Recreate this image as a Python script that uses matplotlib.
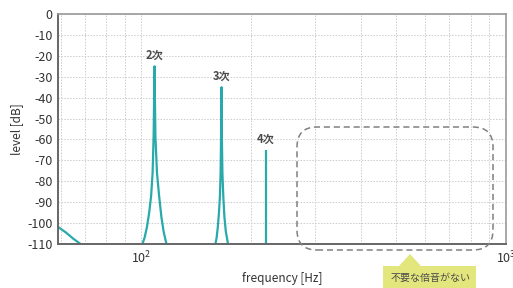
import matplotlib
matplotlib.use('Agg')
import matplotlib.pyplot as plt
from matplotlib.patches import FancyBboxPatch, Polygon, Rectangle

plt.rcParams['font.family'] = ['Noto Sans CJK JP', 'DejaVu Sans']

# fundamental tail (left edge)
f_fund = [55.0, 59.2, 62.0, 65.0, 68.0]
lv_fund = [-99.0, -102.0, -104.5, -107.5, -110.0]

# 2nd harmonic
f_h2 = [100.6, 102.0, 103.5, 105.0, 106.3, 107.3, 108.0, 108.6, 109.2, 110.3, 111.8, 113.4, 115.0, 117.1]
lv_h2 = [-110, -107, -102, -95, -87, -76, -58, -25, -58, -76, -87, -97, -104, -110]

# 3rd harmonic
f_h3 = [159.6, 160.8, 162.0, 163.2, 164.2, 164.9, 165.4, 165.8, 166.2, 166.8, 167.7, 168.9, 170.4, 172.8]
lv_h3 = [-110, -107, -102, -95, -87, -76, -58, -35, -58, -76, -87, -97, -104, -110]

# 4th harmonic
f_h4 = [219.5, 219.5]
lv_h4 = [-110, -65]

labels = ['2次', '3次', '4次']
label_f = [108.6, 165.8, 219.5]
label_lv = [-25, -35, -65]

teal = '#2aa9ab'
dark = '#4a4a4a'

fig = plt.figure(figsize=(5.13, 2.88), dpi=100)
ax = fig.add_axes([0.113, 0.153, 0.873, 0.798])

for f, lv in [(f_fund, lv_fund), (f_h2, lv_h2), (f_h3, lv_h3), (f_h4, lv_h4)]:
    ax.plot(f, lv, color=teal, lw=1.6, solid_capstyle='butt', solid_joinstyle='round')

for t, f, lv in zip(labels, label_f, label_lv):
    ax.text(f, lv + 2, t, ha='center', va='bottom', fontsize=8,
            fontweight='bold', color=dark)

ax.set_xscale('log')
ax.set_xlim(59, 1000)
ax.set_ylim(-110, 0)
ax.set_yticks(range(-110, 1, 10))
ax.set_yticklabels([str(v) for v in range(-110, 1, 10)])
ax.tick_params(axis='both', which='both', length=0, labelsize=9,
               colors='#333333', pad=4)
ax.grid(True, which='major', color='#cccccc', ls=(0, (1.5, 1.5)), lw=0.7)
ax.grid(True, which='minor', axis='x', color='#cccccc', ls=(0, (1.5, 1.5)), lw=0.7)
ax.xaxis.set_minor_formatter(plt.NullFormatter())

for s in ['top', 'right']:
    ax.spines[s].set_color('#999999')
    ax.spines[s].set_linewidth(1.2)
for s in ['left', 'bottom']:
    ax.spines[s].set_color('#666666')
    ax.spines[s].set_linewidth(1.4)

ax.set_xlabel('frequency [Hz]', fontsize=8.5, color='#333333', labelpad=4)
ax.set_ylabel('level [dB]', fontsize=8.5, color='#333333', labelpad=3)

# dashed rounded box
tr = fig.dpi_scale_trans
box = FancyBboxPatch((2.97, 0.38), 1.96, 1.23, boxstyle='round,pad=0,rounding_size=0.2',
                     transform=tr, fill=False, ec='#808080', lw=1.1,
                     ls=(0, (4, 2.5)), clip_on=False)
fig.patches.append(box)

# yellow callout
yellow = '#e3e67c'
fig.patches.append(Rectangle((3.83, 0.0), 0.93, 0.225, transform=tr,
                             fc=yellow, ec='none'))
fig.patches.append(Polygon([(3.99, 0.22), (4.21, 0.22), (4.10, 0.34)],
                           closed=True, transform=tr, fc=yellow, ec='none'))
fig.text(4.305, 0.105, '不要な倍音がない', transform=tr, ha='center', va='center',
         fontsize=7.2, color=dark)

fig.savefig('out.png', dpi=100)
